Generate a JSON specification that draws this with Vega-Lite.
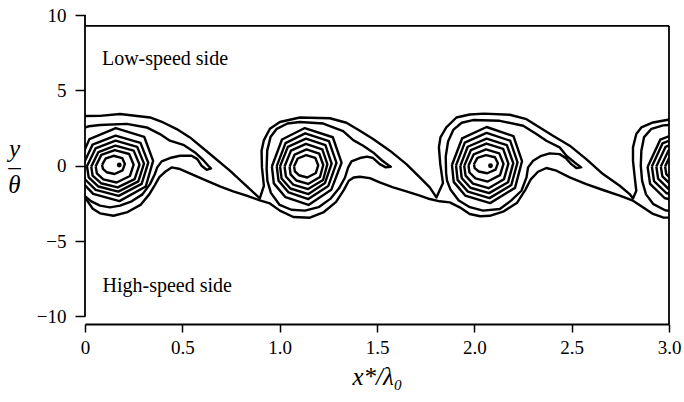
{
  "$schema": "https://vega.github.io/schema/vega-lite/v6.json",
  "width": 584,
  "height": 309,
  "autosize": {"type": "none"},
  "padding": {"left": 85, "top": 15, "right": 15, "bottom": 78},
  "background": "white",
  "config": {
    "view": {"stroke": null},
    "font": "Liberation Serif",
    "axis": {"grid": false, "labelColor": "black", "titleColor": "black", "tickColor": "black", "domainColor": "black", "labelFont": "Liberation Serif", "titleFont": "Liberation Serif", "titleFontWeight": "normal"}
  },
  "datasets": {
    "frame": [
      {"x": 0, "x2": 3, "y": 9.28, "y2": 9.28},
      {"x": 3, "x2": 3, "y": -10.5, "y2": 9.28},
      {"x": 0, "x2": 0, "y": -10, "y2": 10}
    ],
    "centres": [
      {"x": 0.176, "y": 0.05},
      {"x": 2.083, "y": 0.0}
    ],
    "notes": [
      {"x": 0.087, "y": 6.7, "t": "Low-speed side"},
      {"x": 0.09, "y": -8.4, "t": "High-speed side"}
    ],
    "contours": [
      {"c": "A", "i": 0, "x": -0.02, "y": 3.3},
      {"c": "A", "i": 1, "x": 0.077, "y": 3.31},
      {"c": "A", "i": 2, "x": 0.18, "y": 3.43},
      {"c": "A", "i": 3, "x": 0.334, "y": 3.2},
      {"c": "A", "i": 4, "x": 0.402, "y": 2.87},
      {"c": "A", "i": 5, "x": 0.471, "y": 2.43},
      {"c": "A", "i": 6, "x": 0.539, "y": 1.88},
      {"c": "A", "i": 7, "x": 0.642, "y": 0.78},
      {"c": "A", "i": 8, "x": 0.744, "y": -0.33},
      {"c": "A", "i": 9, "x": 0.847, "y": -1.55},
      {"c": "A", "i": 10, "x": 0.898, "y": -2.17},
      {"c": "A", "i": 11, "x": 0.919, "y": -1.33},
      {"c": "A", "i": 12, "x": 0.909, "y": -0.11},
      {"c": "A", "i": 13, "x": 0.907, "y": 0.99},
      {"c": "A", "i": 14, "x": 0.919, "y": 1.7},
      {"c": "A", "i": 15, "x": 0.95, "y": 2.45},
      {"c": "A", "i": 16, "x": 1.001, "y": 2.9},
      {"c": "A", "i": 17, "x": 1.104, "y": 3.2},
      {"c": "A", "i": 18, "x": 1.258, "y": 3.15},
      {"c": "A", "i": 19, "x": 1.343, "y": 2.85},
      {"c": "A", "i": 20, "x": 1.412, "y": 2.32},
      {"c": "A", "i": 21, "x": 1.48, "y": 1.77},
      {"c": "A", "i": 22, "x": 1.566, "y": 1.0},
      {"c": "A", "i": 23, "x": 1.651, "y": 0.11},
      {"c": "A", "i": 24, "x": 1.72, "y": -0.77},
      {"c": "A", "i": 25, "x": 1.771, "y": -1.44},
      {"c": "A", "i": 26, "x": 1.805, "y": -2.1},
      {"c": "A", "i": 27, "x": 1.839, "y": -1.15},
      {"c": "A", "i": 28, "x": 1.825, "y": 0.11},
      {"c": "A", "i": 29, "x": 1.818, "y": 1.22},
      {"c": "A", "i": 30, "x": 1.826, "y": 1.88},
      {"c": "A", "i": 31, "x": 1.856, "y": 2.54},
      {"c": "A", "i": 32, "x": 1.908, "y": 3.2},
      {"c": "A", "i": 33, "x": 1.976, "y": 3.4},
      {"c": "A", "i": 34, "x": 2.05, "y": 3.46},
      {"c": "A", "i": 35, "x": 2.182, "y": 3.38},
      {"c": "A", "i": 36, "x": 2.268, "y": 3.09},
      {"c": "A", "i": 37, "x": 2.336, "y": 2.54},
      {"c": "A", "i": 38, "x": 2.404, "y": 1.99},
      {"c": "A", "i": 39, "x": 2.49, "y": 1.33},
      {"c": "A", "i": 40, "x": 2.575, "y": 0.44},
      {"c": "A", "i": 41, "x": 2.661, "y": -0.55},
      {"c": "A", "i": 42, "x": 2.747, "y": -1.33},
      {"c": "A", "i": 43, "x": 2.798, "y": -1.88},
      {"c": "A", "i": 44, "x": 2.815, "y": -2.17},
      {"c": "A", "i": 45, "x": 2.832, "y": -1.66},
      {"c": "A", "i": 46, "x": 2.824, "y": -0.77},
      {"c": "A", "i": 47, "x": 2.815, "y": 0.33},
      {"c": "A", "i": 48, "x": 2.815, "y": 1.22},
      {"c": "A", "i": 49, "x": 2.832, "y": 2.1},
      {"c": "A", "i": 50, "x": 2.858, "y": 2.54},
      {"c": "A", "i": 51, "x": 2.918, "y": 2.87},
      {"c": "A", "i": 52, "x": 2.995, "y": 3.05},
      {"c": "A", "i": 53, "x": 3.05, "y": 3.1},

      {"c": "C", "i": 0, "x": -0.02, "y": -1.9},
      {"c": "C", "i": 1, "x": 0.01, "y": -2.3},
      {"c": "C", "i": 2, "x": 0.04, "y": -2.85},
      {"c": "C", "i": 3, "x": 0.077, "y": -3.16},
      {"c": "C", "i": 4, "x": 0.146, "y": -3.32},
      {"c": "C", "i": 5, "x": 0.214, "y": -3.1},
      {"c": "C", "i": 6, "x": 0.285, "y": -2.6},
      {"c": "C", "i": 7, "x": 0.33, "y": -1.9},
      {"c": "C", "i": 8, "x": 0.358, "y": -1.3},
      {"c": "C", "i": 9, "x": 0.382, "y": -0.75},
      {"c": "C", "i": 10, "x": 0.41, "y": -0.42},
      {"c": "C", "i": 11, "x": 0.445, "y": -0.11},
      {"c": "C", "i": 12, "x": 0.488, "y": -0.22},
      {"c": "C", "i": 13, "x": 0.556, "y": -0.6},
      {"c": "C", "i": 14, "x": 0.624, "y": -0.99},
      {"c": "C", "i": 15, "x": 0.693, "y": -1.37},
      {"c": "C", "i": 16, "x": 0.761, "y": -1.7},
      {"c": "C", "i": 17, "x": 0.83, "y": -1.99},
      {"c": "C", "i": 18, "x": 0.898, "y": -2.3},
      {"c": "C", "i": 19, "x": 0.95, "y": -2.5},
      {"c": "C", "i": 20, "x": 1.001, "y": -2.98},
      {"c": "C", "i": 21, "x": 1.07, "y": -3.4},
      {"c": "C", "i": 22, "x": 1.155, "y": -3.45},
      {"c": "C", "i": 23, "x": 1.224, "y": -3.1},
      {"c": "C", "i": 24, "x": 1.29, "y": -2.4},
      {"c": "C", "i": 25, "x": 1.33, "y": -1.6},
      {"c": "C", "i": 26, "x": 1.355, "y": -1.0},
      {"c": "C", "i": 27, "x": 1.38, "y": -0.78},
      {"c": "C", "i": 28, "x": 1.412, "y": -0.73},
      {"c": "C", "i": 29, "x": 1.463, "y": -0.82},
      {"c": "C", "i": 30, "x": 1.514, "y": -1.11},
      {"c": "C", "i": 31, "x": 1.583, "y": -1.44},
      {"c": "C", "i": 32, "x": 1.651, "y": -1.7},
      {"c": "C", "i": 33, "x": 1.72, "y": -1.99},
      {"c": "C", "i": 34, "x": 1.771, "y": -2.21},
      {"c": "C", "i": 35, "x": 1.822, "y": -2.36},
      {"c": "C", "i": 36, "x": 1.874, "y": -2.43},
      {"c": "C", "i": 37, "x": 1.925, "y": -2.76},
      {"c": "C", "i": 38, "x": 1.976, "y": -3.2},
      {"c": "C", "i": 39, "x": 2.03, "y": -3.35},
      {"c": "C", "i": 40, "x": 2.079, "y": -3.32},
      {"c": "C", "i": 41, "x": 2.148, "y": -3.05},
      {"c": "C", "i": 42, "x": 2.22, "y": -2.45},
      {"c": "C", "i": 43, "x": 2.262, "y": -1.6},
      {"c": "C", "i": 44, "x": 2.29, "y": -0.9},
      {"c": "C", "i": 45, "x": 2.327, "y": -0.4},
      {"c": "C", "i": 46, "x": 2.37, "y": -0.15},
      {"c": "C", "i": 47, "x": 2.422, "y": -0.33},
      {"c": "C", "i": 48, "x": 2.49, "y": -0.77},
      {"c": "C", "i": 49, "x": 2.575, "y": -1.22},
      {"c": "C", "i": 50, "x": 2.661, "y": -1.61},
      {"c": "C", "i": 51, "x": 2.747, "y": -1.99},
      {"c": "C", "i": 52, "x": 2.815, "y": -2.32},
      {"c": "C", "i": 53, "x": 2.866, "y": -2.76},
      {"c": "C", "i": 54, "x": 2.918, "y": -3.2},
      {"c": "C", "i": 55, "x": 2.969, "y": -3.43},
      {"c": "C", "i": 56, "x": 3.05, "y": -3.47},

      {"c": "B1", "i": 0, "x": -0.03, "y": 2.4},
      {"c": "B1", "i": 1, "x": 0.02, "y": 2.62},
      {"c": "B1", "i": 2, "x": 0.077, "y": 2.7},
      {"c": "B1", "i": 3, "x": 0.214, "y": 2.78},
      {"c": "B1", "i": 4, "x": 0.317, "y": 2.54},
      {"c": "B1", "i": 5, "x": 0.385, "y": 2.1},
      {"c": "B1", "i": 6, "x": 0.436, "y": 1.66},
      {"c": "B1", "i": 7, "x": 0.505, "y": 1.39},
      {"c": "B1", "i": 8, "x": 0.565, "y": 0.88},
      {"c": "B1", "i": 9, "x": 0.607, "y": 0.38},
      {"c": "B1", "i": 10, "x": 0.633, "y": 0.0},
      {"c": "B1", "i": 11, "x": 0.647, "y": -0.18},
      {"c": "B1", "i": 12, "x": 0.625, "y": -0.27},
      {"c": "B1", "i": 13, "x": 0.599, "y": 0.0},
      {"c": "B1", "i": 14, "x": 0.577, "y": 0.44},
      {"c": "B1", "i": 15, "x": 0.548, "y": 0.66},
      {"c": "B1", "i": 16, "x": 0.488, "y": 0.66},
      {"c": "B1", "i": 17, "x": 0.436, "y": 0.51},
      {"c": "B1", "i": 18, "x": 0.394, "y": 0.29},
      {"c": "B1", "i": 19, "x": 0.371, "y": -0.11},
      {"c": "B1", "i": 20, "x": 0.359, "y": -0.55},
      {"c": "B1", "i": 21, "x": 0.334, "y": -1.22},
      {"c": "B1", "i": 22, "x": 0.295, "y": -1.9},
      {"c": "B1", "i": 23, "x": 0.24, "y": -2.36},
      {"c": "B1", "i": 24, "x": 0.18, "y": -2.65},
      {"c": "B1", "i": 25, "x": 0.128, "y": -2.76},
      {"c": "B1", "i": 26, "x": 0.077, "y": -2.65},
      {"c": "B1", "i": 27, "x": 0.03, "y": -2.35},
      {"c": "B1", "i": 28, "x": -0.02, "y": -1.8},

      {"c": "B2", "i": 0, "x": 0.933, "y": -0.2},
      {"c": "B2", "i": 1, "x": 0.936, "y": 1.0},
      {"c": "B2", "i": 2, "x": 0.953, "y": 1.9},
      {"c": "B2", "i": 3, "x": 0.985, "y": 2.45},
      {"c": "B2", "i": 4, "x": 1.04, "y": 2.8},
      {"c": "B2", "i": 5, "x": 1.104, "y": 2.9},
      {"c": "B2", "i": 6, "x": 1.224, "y": 2.8},
      {"c": "B2", "i": 7, "x": 1.326, "y": 2.3},
      {"c": "B2", "i": 8, "x": 1.378, "y": 1.7},
      {"c": "B2", "i": 9, "x": 1.429, "y": 1.33},
      {"c": "B2", "i": 10, "x": 1.48, "y": 0.88},
      {"c": "B2", "i": 11, "x": 1.523, "y": 0.38},
      {"c": "B2", "i": 12, "x": 1.557, "y": 0.05},
      {"c": "B2", "i": 13, "x": 1.571, "y": -0.07},
      {"c": "B2", "i": 14, "x": 1.545, "y": -0.11},
      {"c": "B2", "i": 15, "x": 1.514, "y": 0.11},
      {"c": "B2", "i": 16, "x": 1.48, "y": 0.51},
      {"c": "B2", "i": 17, "x": 1.449, "y": 0.6},
      {"c": "B2", "i": 18, "x": 1.412, "y": 0.51},
      {"c": "B2", "i": 19, "x": 1.369, "y": 0.29},
      {"c": "B2", "i": 20, "x": 1.352, "y": -0.11},
      {"c": "B2", "i": 21, "x": 1.335, "y": -0.8},
      {"c": "B2", "i": 22, "x": 1.305, "y": -1.5},
      {"c": "B2", "i": 23, "x": 1.26, "y": -2.2},
      {"c": "B2", "i": 24, "x": 1.2, "y": -2.75},
      {"c": "B2", "i": 25, "x": 1.13, "y": -2.98},
      {"c": "B2", "i": 26, "x": 1.06, "y": -2.92},
      {"c": "B2", "i": 27, "x": 1.0, "y": -2.6},
      {"c": "B2", "i": 28, "x": 0.955, "y": -1.8},
      {"c": "B2", "i": 29, "x": 0.937, "y": -1.0},
      {"c": "B2", "i": 30, "x": 0.933, "y": -0.2},

      {"c": "B3", "i": 0, "x": 1.855, "y": -0.5},
      {"c": "B3", "i": 1, "x": 1.853, "y": 0.6},
      {"c": "B3", "i": 2, "x": 1.865, "y": 1.6},
      {"c": "B3", "i": 3, "x": 1.893, "y": 2.4},
      {"c": "B3", "i": 4, "x": 1.935, "y": 2.85},
      {"c": "B3", "i": 5, "x": 1.993, "y": 3.03},
      {"c": "B3", "i": 6, "x": 2.131, "y": 2.98},
      {"c": "B3", "i": 7, "x": 2.251, "y": 2.65},
      {"c": "B3", "i": 8, "x": 2.319, "y": 2.1},
      {"c": "B3", "i": 9, "x": 2.37, "y": 1.66},
      {"c": "B3", "i": 10, "x": 2.438, "y": 1.22},
      {"c": "B3", "i": 11, "x": 2.473, "y": 0.66},
      {"c": "B3", "i": 12, "x": 2.515, "y": 0.22},
      {"c": "B3", "i": 13, "x": 2.549, "y": -0.11},
      {"c": "B3", "i": 14, "x": 2.524, "y": -0.15},
      {"c": "B3", "i": 15, "x": 2.498, "y": 0.11},
      {"c": "B3", "i": 16, "x": 2.469, "y": 0.51},
      {"c": "B3", "i": 17, "x": 2.438, "y": 0.77},
      {"c": "B3", "i": 18, "x": 2.387, "y": 0.82},
      {"c": "B3", "i": 19, "x": 2.344, "y": 0.66},
      {"c": "B3", "i": 20, "x": 2.302, "y": 0.33},
      {"c": "B3", "i": 21, "x": 2.276, "y": -0.11},
      {"c": "B3", "i": 22, "x": 2.268, "y": -0.77},
      {"c": "B3", "i": 23, "x": 2.242, "y": -1.66},
      {"c": "B3", "i": 24, "x": 2.19, "y": -2.3},
      {"c": "B3", "i": 25, "x": 2.131, "y": -2.87},
      {"c": "B3", "i": 26, "x": 2.045, "y": -2.98},
      {"c": "B3", "i": 27, "x": 1.977, "y": -2.75},
      {"c": "B3", "i": 28, "x": 1.92, "y": -2.3},
      {"c": "B3", "i": 29, "x": 1.878, "y": -1.6},
      {"c": "B3", "i": 30, "x": 1.86, "y": -1.0},
      {"c": "B3", "i": 31, "x": 1.855, "y": -0.5},

      {"c": "B4", "i": 0, "x": 3.05, "y": 2.75},
      {"c": "B4", "i": 1, "x": 2.97, "y": 2.68},
      {"c": "B4", "i": 2, "x": 2.91, "y": 2.45},
      {"c": "B4", "i": 3, "x": 2.872, "y": 1.9},
      {"c": "B4", "i": 4, "x": 2.858, "y": 1.0},
      {"c": "B4", "i": 5, "x": 2.855, "y": 0.0},
      {"c": "B4", "i": 6, "x": 2.862, "y": -1.0},
      {"c": "B4", "i": 7, "x": 2.882, "y": -1.9},
      {"c": "B4", "i": 8, "x": 2.92, "y": -2.55},
      {"c": "B4", "i": 9, "x": 2.98, "y": -2.95},
      {"c": "B4", "i": 10, "x": 3.05, "y": -3.1},

      {"c": "V1L1", "i": 0, "x": 0.088, "y": 0.06},
      {"c": "V1L1", "i": 1, "x": 0.106, "y": 0.48},
      {"c": "V1L1", "i": 2, "x": 0.147, "y": 0.66},
      {"c": "V1L1", "i": 3, "x": 0.191, "y": 0.51},
      {"c": "V1L1", "i": 4, "x": 0.205, "y": 0.12},
      {"c": "V1L1", "i": 5, "x": 0.193, "y": -0.31},
      {"c": "V1L1", "i": 6, "x": 0.152, "y": -0.55},
      {"c": "V1L1", "i": 7, "x": 0.111, "y": -0.43},
      {"c": "V1L1", "i": 8, "x": 0.092, "y": -0.21},
      {"c": "V1L1", "i": 9, "x": 0.088, "y": 0.06},
      {"c": "V1L2", "i": 0, "x": 0.055, "y": -0.04},
      {"c": "V1L2", "i": 1, "x": 0.084, "y": 0.72},
      {"c": "V1L2", "i": 2, "x": 0.153, "y": 1.04},
      {"c": "V1L2", "i": 3, "x": 0.227, "y": 0.78},
      {"c": "V1L2", "i": 4, "x": 0.25, "y": 0.07},
      {"c": "V1L2", "i": 5, "x": 0.231, "y": -0.68},
      {"c": "V1L2", "i": 6, "x": 0.162, "y": -1.11},
      {"c": "V1L2", "i": 7, "x": 0.094, "y": -0.9},
      {"c": "V1L2", "i": 8, "x": 0.061, "y": -0.51},
      {"c": "V1L2", "i": 9, "x": 0.055, "y": -0.04},
      {"c": "V1L3", "i": 0, "x": 0.032, "y": -0.06},
      {"c": "V1L3", "i": 1, "x": 0.069, "y": 0.91},
      {"c": "V1L3", "i": 2, "x": 0.156, "y": 1.33},
      {"c": "V1L3", "i": 3, "x": 0.25, "y": 1.0},
      {"c": "V1L3", "i": 4, "x": 0.28, "y": 0.08},
      {"c": "V1L3", "i": 5, "x": 0.255, "y": -0.89},
      {"c": "V1L3", "i": 6, "x": 0.168, "y": -1.44},
      {"c": "V1L3", "i": 7, "x": 0.082, "y": -1.16},
      {"c": "V1L3", "i": 8, "x": 0.039, "y": -0.66},
      {"c": "V1L3", "i": 9, "x": 0.032, "y": -0.06},
      {"c": "V1L4", "i": 0, "x": 0.01, "y": -0.03},
      {"c": "V1L4", "i": 1, "x": 0.054, "y": 1.15},
      {"c": "V1L4", "i": 2, "x": 0.157, "y": 1.66},
      {"c": "V1L4", "i": 3, "x": 0.268, "y": 1.25},
      {"c": "V1L4", "i": 4, "x": 0.303, "y": 0.14},
      {"c": "V1L4", "i": 5, "x": 0.274, "y": -1.04},
      {"c": "V1L4", "i": 6, "x": 0.171, "y": -1.72},
      {"c": "V1L4", "i": 7, "x": 0.069, "y": -1.38},
      {"c": "V1L4", "i": 8, "x": 0.019, "y": -0.77},
      {"c": "V1L4", "i": 9, "x": 0.01, "y": -0.03},
      {"c": "V1L5", "i": 0, "x": -0.012, "y": 0.0},
      {"c": "V1L5", "i": 1, "x": 0.039, "y": 1.4},
      {"c": "V1L5", "i": 2, "x": 0.157, "y": 2.0},
      {"c": "V1L5", "i": 3, "x": 0.285, "y": 1.52},
      {"c": "V1L5", "i": 4, "x": 0.325, "y": 0.2},
      {"c": "V1L5", "i": 5, "x": 0.291, "y": -1.2},
      {"c": "V1L5", "i": 6, "x": 0.173, "y": -2.0},
      {"c": "V1L5", "i": 7, "x": 0.055, "y": -1.6},
      {"c": "V1L5", "i": 8, "x": -0.002, "y": -0.88},
      {"c": "V1L5", "i": 9, "x": -0.012, "y": 0.0},
      {"c": "V1L6", "i": 0, "x": -0.035, "y": 0.08},
      {"c": "V1L6", "i": 1, "x": 0.023, "y": 1.77},
      {"c": "V1L6", "i": 2, "x": 0.158, "y": 2.5},
      {"c": "V1L6", "i": 3, "x": 0.304, "y": 1.92},
      {"c": "V1L6", "i": 4, "x": 0.35, "y": 0.32},
      {"c": "V1L6", "i": 5, "x": 0.312, "y": -1.38},
      {"c": "V1L6", "i": 6, "x": 0.177, "y": -2.35},
      {"c": "V1L6", "i": 7, "x": 0.042, "y": -1.87},
      {"c": "V1L6", "i": 8, "x": -0.023, "y": -0.99},
      {"c": "V1L6", "i": 9, "x": -0.035, "y": 0.08},

      {"c": "V2L1", "i": 0, "x": 1.074, "y": -0.04},
      {"c": "V2L1", "i": 1, "x": 1.093, "y": 0.48},
      {"c": "V2L1", "i": 2, "x": 1.136, "y": 0.7},
      {"c": "V2L1", "i": 3, "x": 1.183, "y": 0.52},
      {"c": "V2L1", "i": 4, "x": 1.198, "y": 0.03},
      {"c": "V2L1", "i": 5, "x": 1.186, "y": -0.48},
      {"c": "V2L1", "i": 6, "x": 1.142, "y": -0.78},
      {"c": "V2L1", "i": 7, "x": 1.099, "y": -0.63},
      {"c": "V2L1", "i": 8, "x": 1.078, "y": -0.37},
      {"c": "V2L1", "i": 9, "x": 1.074, "y": -0.04},
      {"c": "V2L2", "i": 0, "x": 1.051, "y": -0.07},
      {"c": "V2L2", "i": 1, "x": 1.077, "y": 0.74},
      {"c": "V2L2", "i": 2, "x": 1.138, "y": 1.08},
      {"c": "V2L2", "i": 3, "x": 1.203, "y": 0.81},
      {"c": "V2L2", "i": 4, "x": 1.224, "y": 0.05},
      {"c": "V2L2", "i": 5, "x": 1.207, "y": -0.75},
      {"c": "V2L2", "i": 6, "x": 1.146, "y": -1.21},
      {"c": "V2L2", "i": 7, "x": 1.086, "y": -0.98},
      {"c": "V2L2", "i": 8, "x": 1.056, "y": -0.57},
      {"c": "V2L2", "i": 9, "x": 1.051, "y": -0.07},
      {"c": "V2L3", "i": 0, "x": 1.025, "y": -0.05},
      {"c": "V2L3", "i": 1, "x": 1.058, "y": 1.0},
      {"c": "V2L3", "i": 2, "x": 1.135, "y": 1.45},
      {"c": "V2L3", "i": 3, "x": 1.219, "y": 1.09},
      {"c": "V2L3", "i": 4, "x": 1.245, "y": 0.1},
      {"c": "V2L3", "i": 5, "x": 1.223, "y": -0.95},
      {"c": "V2L3", "i": 6, "x": 1.146, "y": -1.55},
      {"c": "V2L3", "i": 7, "x": 1.069, "y": -1.25},
      {"c": "V2L3", "i": 8, "x": 1.032, "y": -0.71},
      {"c": "V2L3", "i": 9, "x": 1.025, "y": -0.05},
      {"c": "V2L4", "i": 0, "x": 1.002, "y": -0.04},
      {"c": "V2L4", "i": 1, "x": 1.042, "y": 1.25},
      {"c": "V2L4", "i": 2, "x": 1.135, "y": 1.8},
      {"c": "V2L4", "i": 3, "x": 1.235, "y": 1.36},
      {"c": "V2L4", "i": 4, "x": 1.267, "y": 0.14},
      {"c": "V2L4", "i": 5, "x": 1.233, "y": -1.14},
      {"c": "V2L4", "i": 6, "x": 1.148, "y": -1.88},
      {"c": "V2L4", "i": 7, "x": 1.055, "y": -1.51},
      {"c": "V2L4", "i": 8, "x": 1.01, "y": -0.85},
      {"c": "V2L4", "i": 9, "x": 1.002, "y": -0.04},
      {"c": "V2L5", "i": 0, "x": 0.985, "y": -0.03},
      {"c": "V2L5", "i": 1, "x": 1.03, "y": 1.5},
      {"c": "V2L5", "i": 2, "x": 1.131, "y": 2.15},
      {"c": "V2L5", "i": 3, "x": 1.253, "y": 1.63},
      {"c": "V2L5", "i": 4, "x": 1.292, "y": 0.19},
      {"c": "V2L5", "i": 5, "x": 1.25, "y": -1.34},
      {"c": "V2L5", "i": 6, "x": 1.147, "y": -2.21},
      {"c": "V2L5", "i": 7, "x": 1.046, "y": -1.77},
      {"c": "V2L5", "i": 8, "x": 0.994, "y": -0.99},
      {"c": "V2L5", "i": 9, "x": 0.985, "y": -0.03},
      {"c": "V2L6", "i": 0, "x": 0.96, "y": -0.05},
      {"c": "V2L6", "i": 1, "x": 1.012, "y": 1.74},
      {"c": "V2L6", "i": 2, "x": 1.129, "y": 2.5},
      {"c": "V2L6", "i": 3, "x": 1.273, "y": 1.89},
      {"c": "V2L6", "i": 4, "x": 1.318, "y": 0.2},
      {"c": "V2L6", "i": 5, "x": 1.265, "y": -1.6},
      {"c": "V2L6", "i": 6, "x": 1.148, "y": -2.6},
      {"c": "V2L6", "i": 7, "x": 1.03, "y": -2.09},
      {"c": "V2L6", "i": 8, "x": 0.97, "y": -1.17},
      {"c": "V2L6", "i": 9, "x": 0.96, "y": -0.05},

      {"c": "V3L1", "i": 0, "x": 1.998, "y": 0.1},
      {"c": "V3L1", "i": 1, "x": 2.016, "y": 0.52},
      {"c": "V3L1", "i": 2, "x": 2.06, "y": 0.7},
      {"c": "V3L1", "i": 3, "x": 2.106, "y": 0.56},
      {"c": "V3L1", "i": 4, "x": 2.121, "y": 0.16},
      {"c": "V3L1", "i": 5, "x": 2.109, "y": -0.26},
      {"c": "V3L1", "i": 6, "x": 2.066, "y": -0.5},
      {"c": "V3L1", "i": 7, "x": 2.023, "y": -0.38},
      {"c": "V3L1", "i": 8, "x": 2.002, "y": -0.16},
      {"c": "V3L1", "i": 9, "x": 1.998, "y": 0.1},
      {"c": "V3L2", "i": 0, "x": 1.97, "y": 0.02},
      {"c": "V3L2", "i": 1, "x": 1.997, "y": 0.76},
      {"c": "V3L2", "i": 2, "x": 2.06, "y": 1.08},
      {"c": "V3L2", "i": 3, "x": 2.128, "y": 0.82},
      {"c": "V3L2", "i": 4, "x": 2.15, "y": 0.12},
      {"c": "V3L2", "i": 5, "x": 2.132, "y": -0.62},
      {"c": "V3L2", "i": 6, "x": 2.069, "y": -1.05},
      {"c": "V3L2", "i": 7, "x": 2.006, "y": -0.84},
      {"c": "V3L2", "i": 8, "x": 1.975, "y": -0.45},
      {"c": "V3L2", "i": 9, "x": 1.97, "y": 0.02},
      {"c": "V3L3", "i": 0, "x": 1.948, "y": -0.01},
      {"c": "V3L3", "i": 1, "x": 1.982, "y": 1.03},
      {"c": "V3L3", "i": 2, "x": 2.062, "y": 1.47},
      {"c": "V3L3", "i": 3, "x": 2.148, "y": 1.12},
      {"c": "V3L3", "i": 4, "x": 2.175, "y": 0.14},
      {"c": "V3L3", "i": 5, "x": 2.152, "y": -0.9},
      {"c": "V3L3", "i": 6, "x": 2.073, "y": -1.49},
      {"c": "V3L3", "i": 7, "x": 1.993, "y": -1.19},
      {"c": "V3L3", "i": 8, "x": 1.955, "y": -0.66},
      {"c": "V3L3", "i": 9, "x": 1.948, "y": -0.01},
      {"c": "V3L4", "i": 0, "x": 1.928, "y": -0.01},
      {"c": "V3L4", "i": 1, "x": 1.966, "y": 1.26},
      {"c": "V3L4", "i": 2, "x": 2.063, "y": 1.8},
      {"c": "V3L4", "i": 3, "x": 2.167, "y": 1.37},
      {"c": "V3L4", "i": 4, "x": 2.2, "y": 0.17},
      {"c": "V3L4", "i": 5, "x": 2.173, "y": -1.1},
      {"c": "V3L4", "i": 6, "x": 2.076, "y": -1.82},
      {"c": "V3L4", "i": 7, "x": 1.98, "y": -1.46},
      {"c": "V3L4", "i": 8, "x": 1.935, "y": -0.81},
      {"c": "V3L4", "i": 9, "x": 1.928, "y": -0.01},
      {"c": "V3L5", "i": 0, "x": 1.906, "y": 0.02},
      {"c": "V3L5", "i": 1, "x": 1.951, "y": 1.53},
      {"c": "V3L5", "i": 2, "x": 2.063, "y": 2.18},
      {"c": "V3L5", "i": 3, "x": 2.184, "y": 1.66},
      {"c": "V3L5", "i": 4, "x": 2.222, "y": 0.23},
      {"c": "V3L5", "i": 5, "x": 2.19, "y": -1.28},
      {"c": "V3L5", "i": 6, "x": 2.078, "y": -2.15},
      {"c": "V3L5", "i": 7, "x": 1.967, "y": -1.72},
      {"c": "V3L5", "i": 8, "x": 1.914, "y": -0.94},
      {"c": "V3L5", "i": 9, "x": 1.906, "y": 0.02},
      {"c": "V3L6", "i": 0, "x": 1.885, "y": 0.05},
      {"c": "V3L6", "i": 1, "x": 1.937, "y": 1.81},
      {"c": "V3L6", "i": 2, "x": 2.063, "y": 2.57},
      {"c": "V3L6", "i": 3, "x": 2.201, "y": 1.96},
      {"c": "V3L6", "i": 4, "x": 2.245, "y": 0.3},
      {"c": "V3L6", "i": 5, "x": 2.209, "y": -1.47},
      {"c": "V3L6", "i": 6, "x": 2.081, "y": -2.48},
      {"c": "V3L6", "i": 7, "x": 1.953, "y": -1.98},
      {"c": "V3L6", "i": 8, "x": 1.894, "y": -1.07},
      {"c": "V3L6", "i": 9, "x": 1.885, "y": 0.05},

      {"c": "V4L2", "i": 0, "x": 2.98, "y": -0.05},
      {"c": "V4L2", "i": 1, "x": 3.009, "y": 0.76},
      {"c": "V4L2", "i": 2, "x": 3.077, "y": 1.1},
      {"c": "V4L2", "i": 3, "x": 3.15, "y": 0.82},
      {"c": "V4L2", "i": 4, "x": 3.173, "y": 0.07},
      {"c": "V4L2", "i": 5, "x": 3.154, "y": -0.74},
      {"c": "V4L2", "i": 6, "x": 3.086, "y": -1.2},
      {"c": "V4L2", "i": 7, "x": 3.019, "y": -0.97},
      {"c": "V4L2", "i": 8, "x": 2.986, "y": -0.56},
      {"c": "V4L2", "i": 9, "x": 2.98, "y": -0.05},
      {"c": "V4L3", "i": 0, "x": 2.958, "y": -0.05},
      {"c": "V4L3", "i": 1, "x": 2.997, "y": 1.0},
      {"c": "V4L3", "i": 2, "x": 3.087, "y": 1.45},
      {"c": "V4L3", "i": 3, "x": 3.185, "y": 1.09},
      {"c": "V4L3", "i": 4, "x": 3.216, "y": 0.1},
      {"c": "V4L3", "i": 5, "x": 3.19, "y": -0.95},
      {"c": "V4L3", "i": 6, "x": 3.1, "y": -1.55},
      {"c": "V4L3", "i": 7, "x": 3.01, "y": -1.25},
      {"c": "V4L3", "i": 8, "x": 2.966, "y": -0.71},
      {"c": "V4L3", "i": 9, "x": 2.958, "y": -0.05},
      {"c": "V4L4", "i": 0, "x": 2.935, "y": -0.05},
      {"c": "V4L4", "i": 1, "x": 2.982, "y": 1.25},
      {"c": "V4L4", "i": 2, "x": 3.091, "y": 1.8},
      {"c": "V4L4", "i": 3, "x": 3.209, "y": 1.36},
      {"c": "V4L4", "i": 4, "x": 3.246, "y": 0.14},
      {"c": "V4L4", "i": 5, "x": 3.215, "y": -1.16},
      {"c": "V4L4", "i": 6, "x": 3.106, "y": -1.9},
      {"c": "V4L4", "i": 7, "x": 2.997, "y": -1.53},
      {"c": "V4L4", "i": 8, "x": 2.944, "y": -0.86},
      {"c": "V4L4", "i": 9, "x": 2.935, "y": -0.05},
      {"c": "V4L5", "i": 0, "x": 2.912, "y": -0.05},
      {"c": "V4L5", "i": 1, "x": 2.967, "y": 1.49},
      {"c": "V4L5", "i": 2, "x": 3.096, "y": 2.15},
      {"c": "V4L5", "i": 3, "x": 3.237, "y": 1.62},
      {"c": "V4L5", "i": 4, "x": 3.281, "y": 0.17},
      {"c": "V4L5", "i": 5, "x": 3.244, "y": -1.37},
      {"c": "V4L5", "i": 6, "x": 3.115, "y": -2.25},
      {"c": "V4L5", "i": 7, "x": 2.986, "y": -1.81},
      {"c": "V4L5", "i": 8, "x": 2.923, "y": -1.02},
      {"c": "V4L5", "i": 9, "x": 2.912, "y": -0.05},
      {"c": "V4L6", "i": 0, "x": 2.89, "y": -0.08},
      {"c": "V4L6", "i": 1, "x": 2.955, "y": 1.73},
      {"c": "V4L6", "i": 2, "x": 3.107, "y": 2.5},
      {"c": "V4L6", "i": 3, "x": 3.271, "y": 1.88},
      {"c": "V4L6", "i": 4, "x": 3.323, "y": 0.18},
      {"c": "V4L6", "i": 5, "x": 3.28, "y": -1.62},
      {"c": "V4L6", "i": 6, "x": 3.127, "y": -2.65},
      {"c": "V4L6", "i": 7, "x": 2.977, "y": -2.14},
      {"c": "V4L6", "i": 8, "x": 2.903, "y": -1.21},
      {"c": "V4L6", "i": 9, "x": 2.89, "y": -0.08}
    ]
  },
  "encoding": {
    "x": {
      "field": "x",
      "type": "quantitative",
      "scale": {"domain": [0, 3], "nice": false, "zero": false},
      "axis": {
        "title": "x*/λ₀",
        "values": [0, 0.5, 1, 1.5, 2, 2.5, 3],
        "labelExpr": "datum.value == 0 ? '0' : format(datum.value, '.1f')",
        "labelFontSize": 19,
        "labelPadding": 6,
        "labelFlush": false,
        "labelOverlap": false,
        "domainWidth": 1.8,
        "tickWidth": 1.5,
        "tickSize": 8,
        "titleFontSize": 25,
        "titleFontStyle": "italic",
        "titleBaseline": "alphabetic",
        "titleY": 60
      }
    },
    "y": {
      "field": "y",
      "type": "quantitative",
      "scale": {"domain": [-10.5, 10], "nice": false, "zero": false},
      "axis": {
        "title": ["y", "–", "θ"],
        "values": [-10, -5, 0, 5, 10],
        "domain": false,
        "labelFontSize": 19,
        "labelPadding": 9,
        "tickWidth": 1.5,
        "tickSize": 10,
        "titleAngle": 0,
        "titleFontSize": 25,
        "titleFontStyle": "italic",
        "titleLineHeight": 18,
        "titleAlign": "center",
        "titleBaseline": "middle",
        "titleX": -71,
        "titleY": 133
      }
    }
  },
  "layer": [
    {
      "data": {"name": "frame"},
      "mark": {"type": "rule", "color": "black", "strokeWidth": 1.8},
      "encoding": {"x2": {"field": "x2"}, "y2": {"field": "y2"}}
    },
    {
      "data": {"name": "contours"},
      "mark": {"type": "line", "clip": true, "color": "black", "strokeWidth": 2.4, "strokeJoin": "round", "interpolate": "linear"},
      "encoding": {
        "detail": {"field": "c", "type": "nominal"},
        "order": {"field": "i", "type": "quantitative"}
      }
    },
    {
      "data": {"name": "centres"},
      "mark": {"type": "point", "filled": true, "color": "black", "size": 24, "opacity": 1}
    },
    {
      "data": {"name": "notes"},
      "mark": {"type": "text", "align": "left", "baseline": "alphabetic", "fontSize": 20, "font": "Liberation Serif", "color": "black"},
      "encoding": {"text": {"field": "t", "type": "nominal"}}
    }
  ]
}
